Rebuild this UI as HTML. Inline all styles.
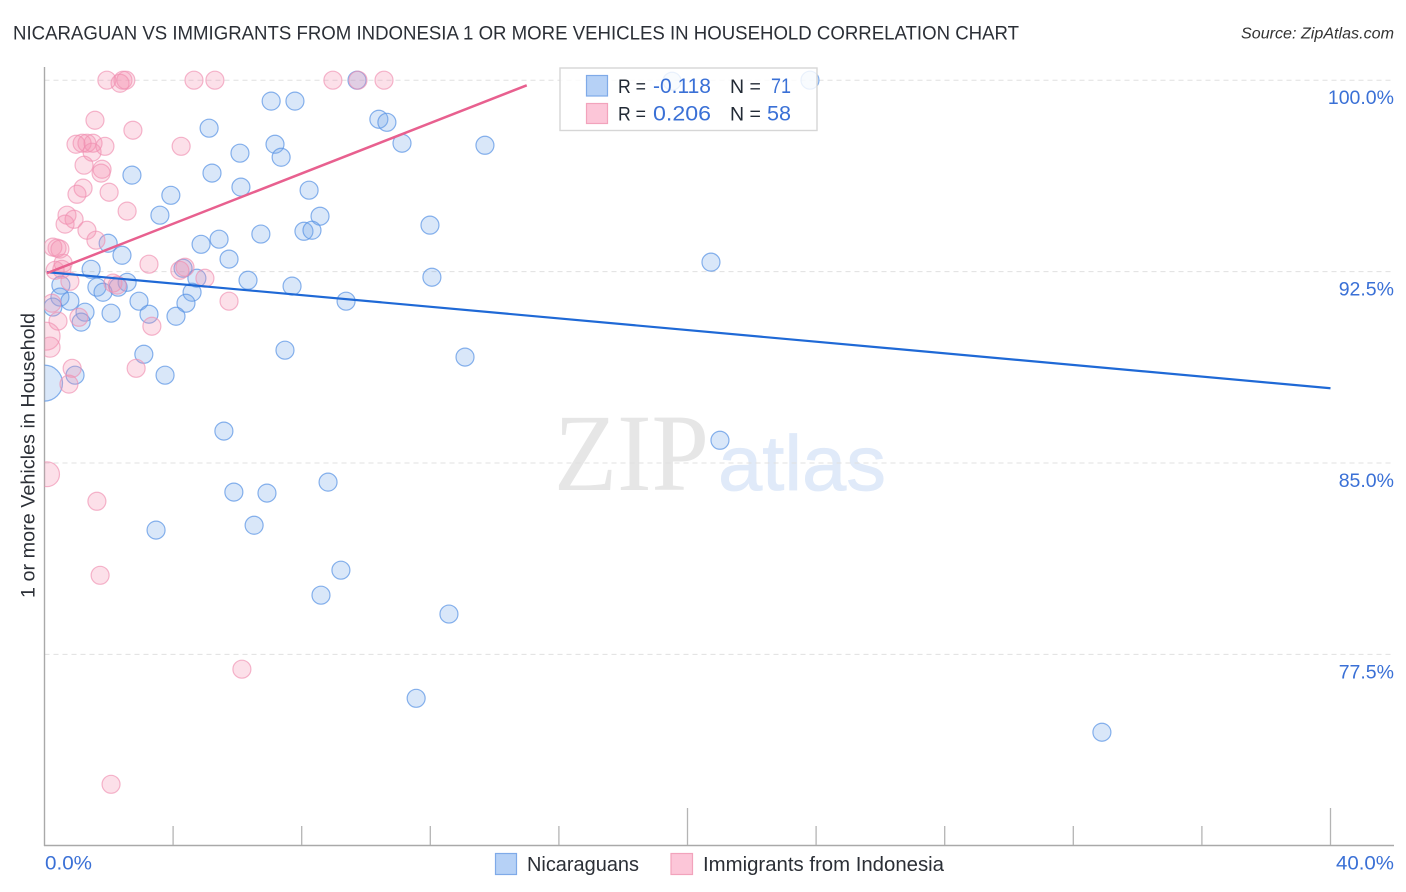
<!DOCTYPE html>
<html lang="en">
<head>
<meta charset="utf-8">
<title>Nicaraguan vs Immigrants from Indonesia 1 or more Vehicles in Household Correlation Chart</title>
<style>
html,body{margin:0;padding:0;background:#fff;}
svg{display:block;font-family:"Liberation Sans",sans-serif;}
</style>
</head>
<body>
<svg id="chart" xmlns="http://www.w3.org/2000/svg" width="1406" height="892" viewBox="0 0 1406 892">
  <defs>
    <clipPath id="plot-clip"><rect x="44.5" y="60" width="1361.5" height="786"/></clipPath>
  </defs>
  <text x="13" y="39.5" font-size="19.5" fill="#2b2f36" textLength="1006" lengthAdjust="spacingAndGlyphs">NICARAGUAN VS IMMIGRANTS FROM INDONESIA 1 OR MORE VEHICLES IN HOUSEHOLD CORRELATION CHART</text>
  <text x="1241" y="38.5" font-size="15.5" font-style="italic" fill="#333" textLength="153" lengthAdjust="spacingAndGlyphs">Source: ZipAtlas.com</text>
  <text transform="translate(34.5,598) rotate(-90)" font-size="19.5" fill="#2b2f36" textLength="285" lengthAdjust="spacingAndGlyphs">1 or more Vehicles in Household</text>

  <g>
    <text x="554" y="490" font-family="'Liberation Serif',serif" font-size="110" fill="#e6e6e6" textLength="155" lengthAdjust="spacingAndGlyphs">ZIP</text>
    <text x="718" y="490" font-size="78" fill="#e0eaf9" stroke="#e0eaf9" stroke-width="0.8" textLength="168" lengthAdjust="spacingAndGlyphs">atlas</text>
  </g>

  <g id="grid"></g>
  <g id="axes"></g>
  <g id="tick-labels"></g>
  <g id="points-blue" clip-path="url(#plot-clip)"></g>
  <g id="points-pink" clip-path="url(#plot-clip)"></g>
  <g id="trends"></g>

  <g>
    <rect x="560" y="68" width="257" height="62.5" fill="#fff" fill-opacity="0.82" stroke="#d6d6d6" stroke-width="1.4"/>
    <rect x="586.5" y="75.5" width="21" height="20.5" fill="#b6d1f6" stroke="#7faae8" stroke-width="1.2"/>
    <rect x="586.5" y="103.5" width="21" height="20" fill="#fcc6d8" stroke="#f2a3bc" stroke-width="1.2"/>
    <text x="618" y="93" font-size="19.5" fill="#222a35" textLength="28" lengthAdjust="spacingAndGlyphs">R =</text>
    <text x="653" y="93" font-size="21.5" fill="#3a70d6" textLength="58" lengthAdjust="spacingAndGlyphs">-0.118</text>
    <text x="730" y="93" font-size="19.5" fill="#222a35">N =</text>
    <text x="771" y="93" font-size="21.5" fill="#3a70d6" textLength="20" lengthAdjust="spacingAndGlyphs">71</text>
    <text x="618" y="120.5" font-size="19.5" fill="#222a35" textLength="28" lengthAdjust="spacingAndGlyphs">R =</text>
    <text x="653" y="120.5" font-size="21.5" fill="#3a70d6" textLength="58" lengthAdjust="spacingAndGlyphs">0.206</text>
    <text x="730" y="120.5" font-size="19.5" fill="#222a35">N =</text>
    <text x="767" y="120.5" font-size="21.5" fill="#3a70d6" textLength="24" lengthAdjust="spacingAndGlyphs">58</text>
  </g>

  <g>
    <g>
      <rect x="495.5" y="853.5" width="21" height="21" fill="#b6d1f6" stroke="#7faae8" stroke-width="1.2"/>
      <text x="527" y="871" font-size="20" fill="#2b2f36" textLength="112" lengthAdjust="spacingAndGlyphs">Nicaraguans</text>
    </g>
    <g>
      <rect x="671" y="853.5" width="21.5" height="21" fill="#fcc6d8" stroke="#f2a3bc" stroke-width="1.2"/>
      <text x="703" y="871" font-size="20" fill="#2b2f36" textLength="241" lengthAdjust="spacingAndGlyphs">Immigrants from Indonesia</text>
    </g>
  </g>
</svg>
<script>
const xTickValues = [0, 4, 8, 12, 16, 20, 24, 28, 32, 36, 40];
const xMajorTicks = [0, 20, 40];
const xEndLabels = ["0.0%", "40.0%"];
const yTickValues = [100, 92.5, 85, 77.5];
const yTickLabels = ["100.0%", "92.5%", "85.0%", "77.5%"];

const nicaraguansX = [19.52,23.81,9.72,7.05,7.79,10.40,10.65,11.12,13.70,5.12,7.17,7.36,6.08,2.72,5.21,6.11,8.23,3.93,3.59,8.57,11.99,6.73,8.07,8.32,5.43,4.87,1.98,5.74,2.41,20.73,1.45,4.74,6.33,12.05,2.57,4.31,0.51,1.63,2.29,1.82,7.70,4.59,0.48,0.79,2.94,9.38,4.40,0.26,1.26,2.07,3.25,4.09,1.14,7.48,3.09,13.08,0.95,3.75,0.00,5.58,21.01,5.89,6.92,8.82,3.47,6.52,9.22,8.60,12.58,11.56,32.89];
const nicaraguansY = [99.96,100,100,99.18,99.18,98.47,98.35,97.53,97.45,98.12,97.49,96.98,97.14,96.28,96.36,95.81,95.69,95.49,94.71,94.67,94.32,93.97,94.08,94.12,93.77,93.57,93.61,92.99,93.14,92.87,92.59,92.24,92.16,92.28,92.08,92.63,91.97,91.89,91.89,91.69,91.93,91.69,91.50,91.34,91.34,91.34,91.26,91.11,90.91,90.87,90.83,90.75,90.52,89.42,89.26,89.15,88.44,88.44,88.13,86.25,85.89,83.86,83.82,84.25,82.37,82.56,80.80,79.82,79.08,75.78,74.45];
const nicaraguansWeight = [1,1,1,1,1,1,1,1,1,1,1,1,1,1,1,1,1,1,1,1,1,1,1,1,1,1,1,1,1,1,1,1,1,1,1,1,1,1,1,1,1,1,1,1,1,1,1,1,1,1,1,1,1,1,1,1,1,1,4,1,1,1,1,1,1,1,1,1,1,1,1];

const indonesiaX = [1.94,2.35,2.44,2.53,4.65,5.30,8.97,9.75,10.56,1.57,2.75,4.25,0.98,1.17,1.32,1.51,1.48,1.88,1.23,1.79,1.76,1.20,1.01,2.01,2.57,0.70,0.92,0.64,1.32,1.60,0.26,0.39,0.48,0.58,0.33,0.54,3.25,4.21,4.37,2.13,2.26,0.79,4.99,5.74,0.23,1.07,0.42,0.05,0.17,3.34,2.85,0.86,0.76,0.08,1.63,1.73,6.14,2.07];
const indonesiaY = [100,99.88,100,100,100,100,100,100,100,98.43,98.04,97.41,97.49,97.53,97.53,97.53,97.18,97.41,96.67,96.51,96.36,95.77,95.53,95.61,94.87,94.71,94.55,94.36,94.12,93.73,93.46,93.42,93.38,92.83,92.55,92.59,92.79,92.55,92.67,92.05,91.97,92.12,92.24,91.34,91.26,90.71,90.56,89.97,89.54,90.36,88.71,88.71,88.09,84.56,83.50,80.60,76.92,72.41];
const indonesiaWeight = [1,1,1,1,1,1,1,1,1,1,1,1,1,1,1,1,1,1,1,1,1,1,1,1,1,1,1,1,1,1,1,1,1,1,1,1,1,1,1,1,1,1,1,1,1,1,1,2.4,1.25,1,1,1,1,1.9,1,1,1,1];

const nicaraguansTrendX = [0.08, 40];
const nicaraguansTrendY = [92.48, 87.93];
const indonesiaTrendX = [0.08, 15.0];
const indonesiaTrendY = [92.44, 99.8];

const SVG_NS = "http://www.w3.org/2000/svg";
function xScale(v) { return 44.5 + v * 32.15; }
function yScale(v) { return 80.2 + (100 - v) * 25.52; }
function rScale(w) { return 9 * Math.sqrt(w); }
function make(tag, attrs, parent) {
  const el = document.createElementNS(SVG_NS, tag);
  for (const k in attrs) el.setAttribute(k, attrs[k]);
  parent.appendChild(el);
  return el;
}

const grid = document.getElementById("grid");
const axes = document.getElementById("axes");
const labels = document.getElementById("tick-labels");

yTickValues.forEach(function (v, i) {
  const line = make("line", {x1: 44.5, x2: 1394, y1: yScale(v), y2: yScale(v), stroke: "#e0e0e0", "stroke-width": 1, "stroke-dasharray": "5 4"}, grid);
  
  
  const t = make("text", {x: 1394, y: yScale(v) + 24, "text-anchor": "end", "font-size": 19.5, fill: "#3a70d6"}, labels);
  
  
  t.textContent = yTickLabels[i];
});

const yAxis = make("line", {x1: 44.5, x2: 44.5, y1: 67, y2: 846, stroke: "#a9a9a9", "stroke-width": 1.4}, axes);


const xAxis = make("line", {x1: 44, x2: 1394, y1: 845.5, y2: 845.5, stroke: "#a9a9a9", "stroke-width": 1.4}, axes);



xTickValues.forEach(function (v) {
  if (v === 0) return;
  const top = xMajorTicks.indexOf(v) >= 0 ? 808 : 826;
  const tick = make("line", {x1: xScale(v), x2: xScale(v), y1: top, y2: 845, stroke: "#b4b4b4", "stroke-width": 1.3}, axes);
  
  
});

const xLabelLeft = make("text", {x: 45, y: 869.5, "font-size": 19.5, fill: "#3a70d6", textLength: 47, lengthAdjust: "spacingAndGlyphs"}, labels);


xLabelLeft.textContent = xEndLabels[0];
const xLabelRight = make("text", {x: 1336, y: 869.5, "font-size": 19.5, fill: "#3a70d6", textLength: 58, lengthAdjust: "spacingAndGlyphs"}, labels);


xLabelRight.textContent = xEndLabels[1];

const blueGroup = document.getElementById("points-blue");
nicaraguansX.forEach(function (v, i) {
  const c = make("circle", {cx: xScale(v), cy: yScale(nicaraguansY[i]), r: rScale(nicaraguansWeight[i]), fill: "#78aaeb", "fill-opacity": 0.28, stroke: "#5a94e4", "stroke-opacity": 0.72, "stroke-width": 1.2}, blueGroup);
  
  
});

const pinkGroup = document.getElementById("points-pink");
indonesiaX.forEach(function (v, i) {
  const c = make("circle", {cx: xScale(v), cy: yScale(indonesiaY[i]), r: rScale(indonesiaWeight[i]), fill: "#f590b0", "fill-opacity": 0.28, stroke: "#f08fb0", "stroke-opacity": 0.65, "stroke-width": 1.2}, pinkGroup);
  
  
});

const trends = document.getElementById("trends");
const blueTrend = make("line", {x1: xScale(nicaraguansTrendX[0]), y1: yScale(nicaraguansTrendY[0]), x2: xScale(nicaraguansTrendX[1]), y2: yScale(nicaraguansTrendY[1]), stroke: "#1f69d6", "stroke-width": 2.2}, trends);


const pinkTrend = make("line", {x1: xScale(indonesiaTrendX[0]), y1: yScale(indonesiaTrendY[0]), x2: xScale(indonesiaTrendX[1]), y2: yScale(indonesiaTrendY[1]), stroke: "#e8608f", "stroke-width": 2.5}, trends);


</script>
</body>
</html>
